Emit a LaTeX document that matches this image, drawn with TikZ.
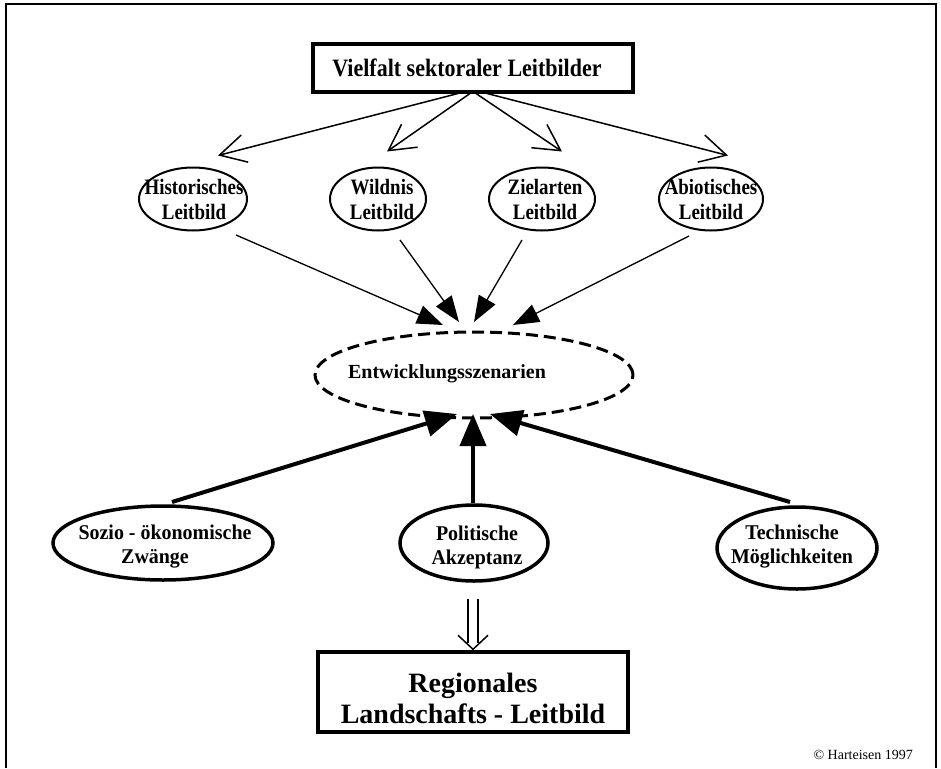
\documentclass[tikz,border=0pt]{standalone}
\usepackage{fontspec}
\setmainfont{Liberation Serif}
\newfontfamily\condA[FakeStretch=0.88]{Liberation Serif}
\newfontfamily\condB[FakeStretch=0.86]{Liberation Serif}
\newfontfamily\condC[FakeStretch=0.95]{Liberation Serif}
\usetikzlibrary{arrows.meta,shapes.geometric,calc}
\begin{document}
\begin{tikzpicture}[x=1pt,y=-1pt,
  lbl/.style={font=\condB\fontsize{22}{25}\selectfont\bfseries, align=center, inner sep=0pt},
  lblb/.style={font=\condC\fontsize{21}{24}\selectfont\bfseries, align=center, inner sep=0pt},
  ellA/.style={ellipse, draw, line width=2pt, inner sep=0pt},
  ellB/.style={ellipse, draw, line width=3.5pt, inner sep=0pt},
  openarr/.style={line width=1.5pt, -{Straight Barb[length=26pt,width=28pt,line width=1.5pt]}},
  thinarr/.style={line width=1.3pt, -{Triangle[length=26pt,width=19pt]}},
  thickarr/.style={line width=4pt, -{Triangle[length=32pt,width=26pt]}},
  dbl/.style={line width=1.5pt}
]
\useasboundingbox (0,0) rectangle (941,768);
\draw[line width=2pt] (6,768) -- (6,4) -- (936,4) -- (936,768);

% top box
\node[draw, line width=4pt, minimum width=320pt, minimum height=47pt, inner sep=0pt] (vt) at (473,68) {};
\node[inner sep=0pt, font=\condA\fontsize{25}{28}\selectfont\bfseries] (vtt) at (467,68) {Vielfalt sektoraler Leitbilder};

% row 1
\node[ellA, minimum width=108pt, minimum height=63pt] (hist) at (193,199) {};
\node[lbl] (histt) at (194,199) {Historisches\\Leitbild};
\node[ellA, minimum width=96pt, minimum height=63pt] (wild) at (378,199) {};
\node[lbl] (wildt) at (382,199) {Wildnis\\Leitbild};
\node[ellA, minimum width=106pt, minimum height=63pt] (ziel) at (542,199) {};
\node[lbl] (zielt) at (545,199) {Zielarten\\Leitbild};
\node[ellA, minimum width=104pt, minimum height=63pt] (abio) at (711,199) {};
\node[lbl] (abiot) at (711,199) {Abiotisches\\Leitbild};

% middle dashed ellipse
\node[ellipse, draw, line width=3pt, dash pattern=on 12pt off 6pt, inner sep=0pt,
      minimum width=318pt, minimum height=86pt] (ent) at (474,375) {};
\node[inner sep=0pt, font=\fontsize{20}{24}\selectfont\bfseries] (entt) at (447,374) {Entwicklungsszenarien};

% row 2
\node[ellB, minimum width=220pt, minimum height=74pt] (soz) at (163,543) {};
\node[lblb] (sozt) at (165,547) {Sozio - ökonomische\\\hspace*{-20pt}Zwänge};
\node[ellB, minimum width=148pt, minimum height=76pt] (pol) at (474,543) {};
\node[lblb] (polt) at (477,547) {Politische\\Akzeptanz};
\node[ellB, minimum width=160pt, minimum height=82pt] (tech) at (797,548) {};
\node[lblb] (techt) at (792,547) {Technische\\Möglichkeiten};

% bottom box
\node[draw, line width=3.5pt, minimum width=310pt, minimum height=80pt, inner sep=0pt] (reg) at (473,692) {};
\node[align=center, inner sep=0pt, font=\fontsize{28}{31}\selectfont\bfseries] (regt) at (473,698) {Regionales\\Landschafts - Leitbild};

% copyright
\node[anchor=east, inner sep=0pt, font=\fontsize{14}{16}\selectfont] (copy) at (913,755) {© Harteisen 1997};

% connectors: top box -> row 1
\draw[openarr] ($(vt.south)+(-15,0)$) -- ($(hist.north)+(25,-11)$);
\draw[openarr] ($(vt.south)+(-3,0)$) -- ($(wild.north)+(9,-15)$);
\draw[openarr] ($(vt.south)+(3,0)$) -- ($(ziel.north)+(20,-15)$);
\draw[openarr] ($(vt.south)+(14,0)$) -- ($(abio.north)+(17,-11)$);

% row 1 -> scenarios
\draw[thinarr] ($(hist)+(43,36)$) -- ($(ent)+(-31,-50)$);
\draw[thinarr] ($(wild)+(22,41)$) -- ($(ent)+(-15,-53)$);
\draw[thinarr] ($(ziel)+(-20,41)$) -- ($(ent)+(0,-53)$);
\draw[thinarr] ($(abio)+(-22,37)$) -- ($(ent)+(39,-50)$);

% row 2 -> scenarios
\draw[thickarr] ($(soz)+(9,-41)$) -- ($(ent)+(-17,39)$);
\draw[thickarr] ($(pol.north)+(-1,0)$) -- ($(ent)+(-1,39)$);
\draw[thickarr] ($(tech)+(-7,-46)$) -- ($(ent)+(16,39)$);

% double arrow -> bottom box
\draw[dbl] ($(pol.south)+(-6,16)$) -- ($(reg.north)+(-5,-7)$);
\draw[dbl] ($(pol.south)+(4,16)$) -- ($(reg.north)+(5,-7)$);
\draw[dbl, line join=miter] ($(reg.north)+(-15,-15)$) -- ($(reg.north)+(0,-1)$) -- ($(reg.north)+(15,-15)$);
\end{tikzpicture}
\end{document}
